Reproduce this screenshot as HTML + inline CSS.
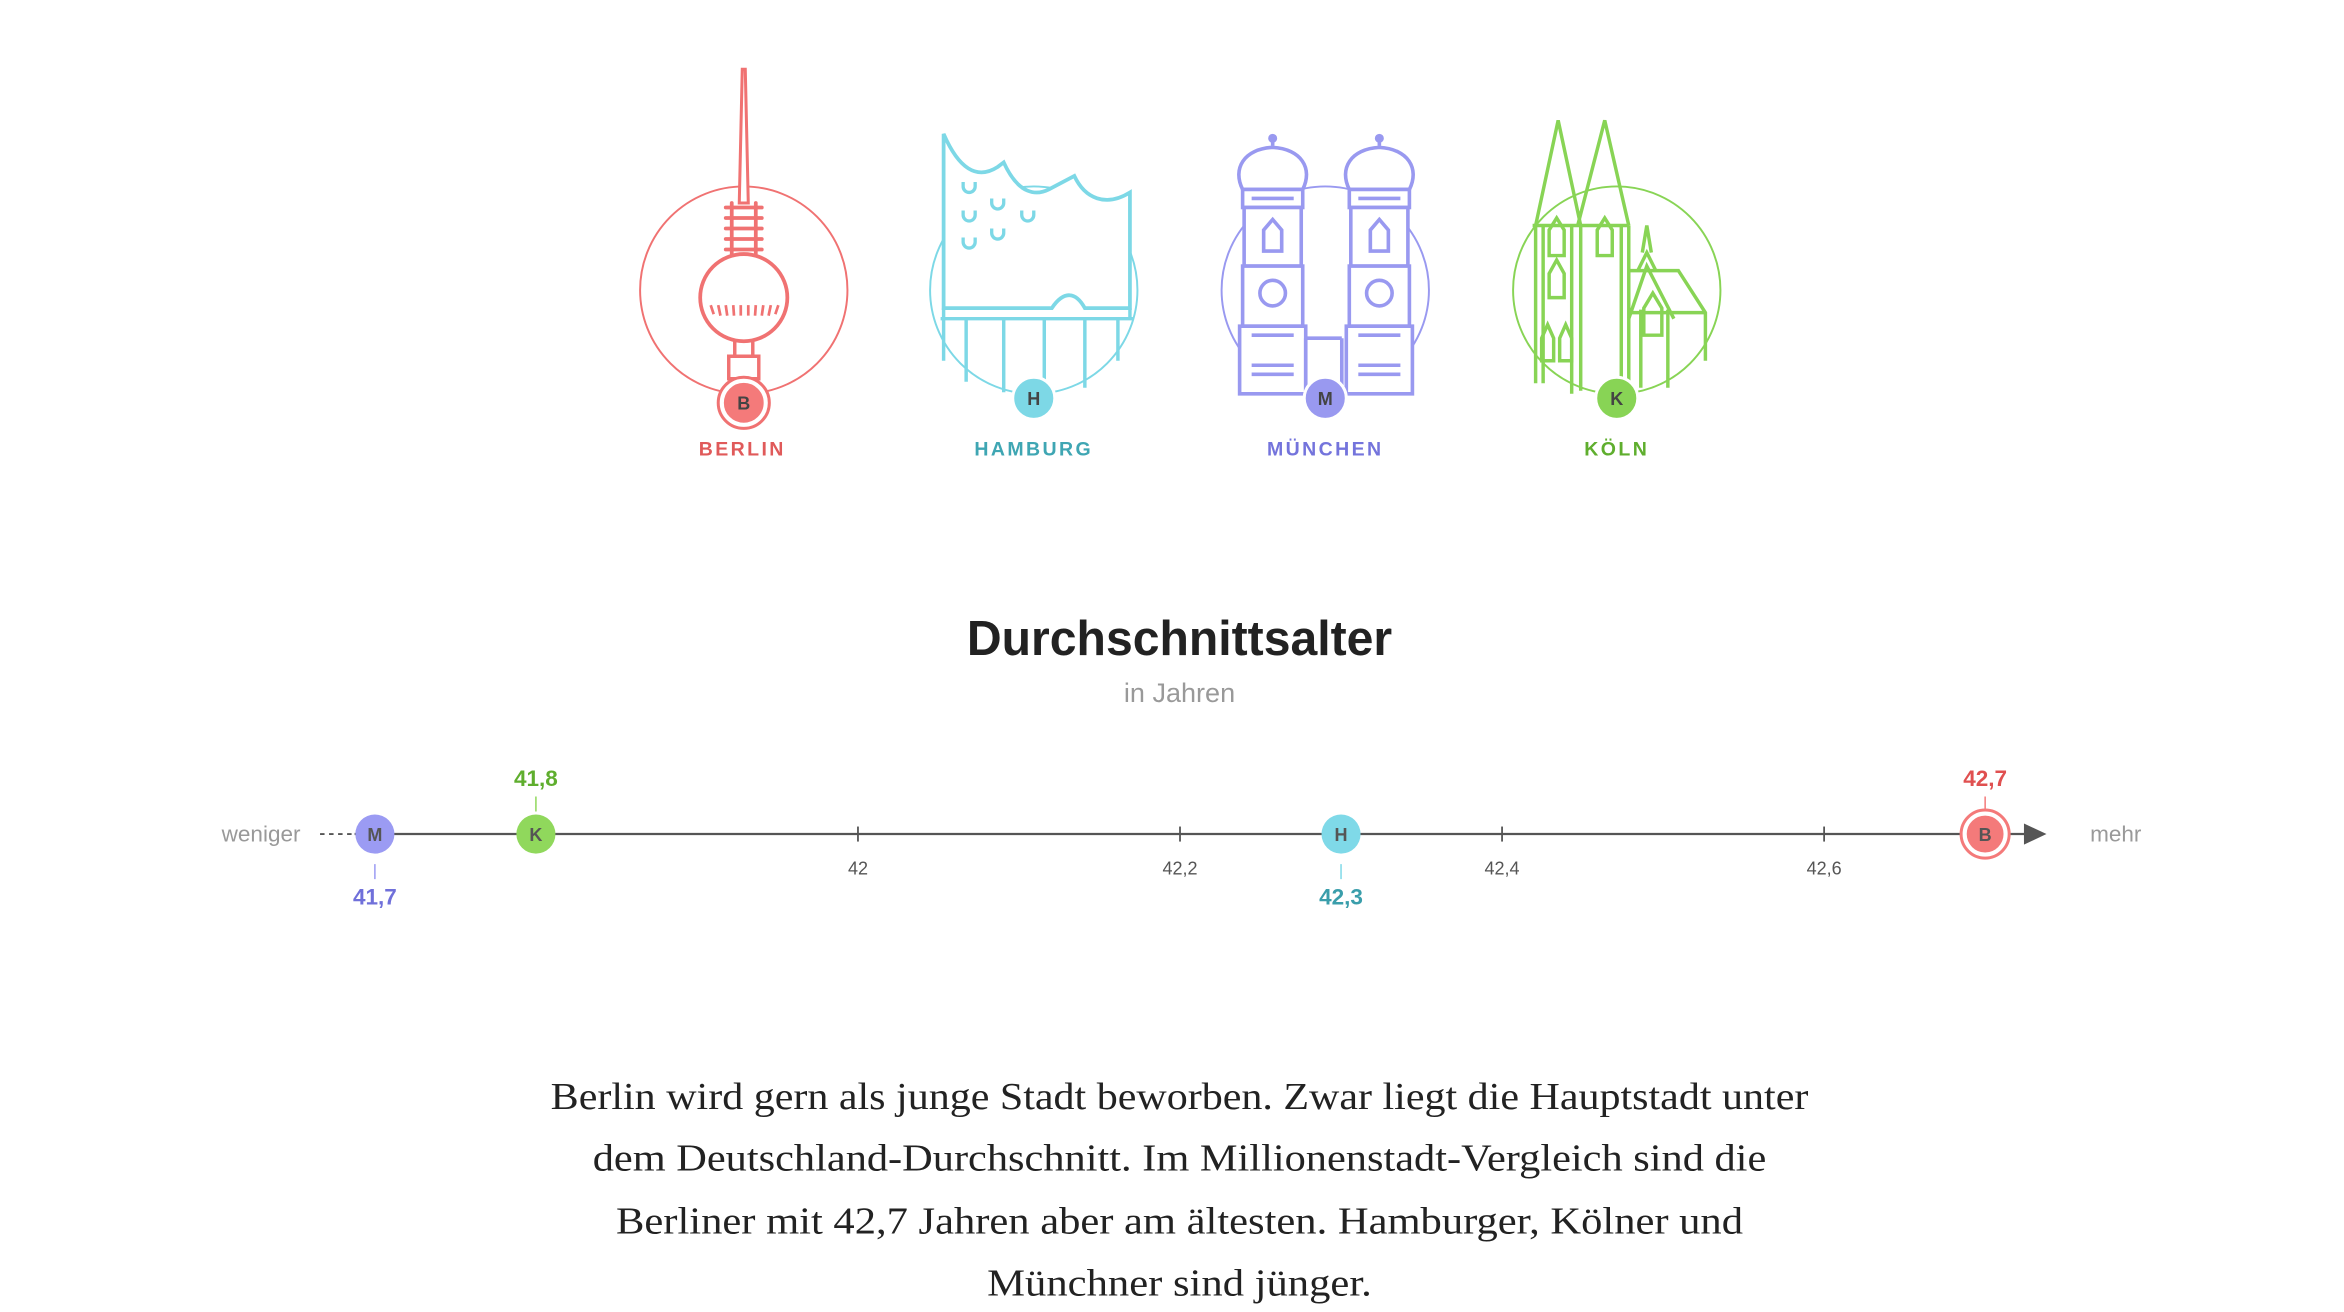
<!DOCTYPE html>
<html><head><meta charset="utf-8">
<style>
html,body{margin:0;padding:0;background:#fff;}
svg{display:block;}
.lbl{font-family:"Liberation Sans",sans-serif;font-weight:bold;font-size:13px;letter-spacing:1.6px;text-anchor:middle;}
.badge{font-family:"Liberation Sans",sans-serif;font-weight:bold;font-size:12px;text-anchor:middle;fill:#444;}
</style></head>
<body>
<svg id="main" width="2344" height="1312" viewBox="0 0 1560 873" xmlns="http://www.w3.org/2000/svg">
<!-- Berlin icon -->
<g fill="none" stroke="#f07272">
  <circle cx="495" cy="193" r="69" stroke-width="1.3"/>
  <polygon points="494,46 496,46 498,135 492,135" fill="#fff" stroke-width="2"/>
  <path d="M487,135V170M503,135V170M483,138H507M483,145H507M483,152H507M483,159H507M483,166H507" stroke-width="2.5" stroke-linecap="round"/>
  <circle cx="495" cy="198" r="29" stroke-width="2.5" fill="#fff"/>
  <path d="M473,203l2,6M478,203l1.5,7M483,203l1,7M488,203l.5,7M493,203v7M498,203v7M503,203l-.5,7M508,203l-1,7M513,203l-1.5,7M518,203l-2,6" stroke-width="1.8"/>
  <path d="M489,227V237M501,227V237M485,237H505V252H485Z" stroke-width="2.3" fill="#fff"/>
  <circle cx="495" cy="268" r="17" fill="#fff" stroke-width="2"/>
  <circle cx="495" cy="268" r="14" fill="#f47a7a" stroke="#fff" stroke-width="1.5"/>
</g>
<text x="495" y="272.5" class="badge">B</text>
<text x="494" y="303" class="lbl" fill="#e05a5a">BERLIN</text>

<!-- Hamburg icon -->
<g fill="none" stroke="#7dd8e6">
  <circle cx="688" cy="193" r="69" stroke-width="1.3"/>
  <path d="M628,89 C638,112 650,120 664,111 L668,108 C678,130 690,130 698,126 L715,117 C722,132 736,138 752,128 V205 H722 C716,194 708,193 700,205 H628 Z" stroke-width="2.5" fill="#fff"/>
  <path d="M626,212H754M628,205V212M752,205V212M628,212V240M643,212V254M668,212V261M695,212V262M722,212V258M744,212V240" stroke-width="2.3"/>
  <path d="M641,121v3a4,4 0 0 0 8,0v-3M660,132v3a4,4 0 0 0 8,0v-3M680,140v3a4,4 0 0 0 8,0v-3M641,140v3a4,4 0 0 0 8,0v-3M660,152v3a4,4 0 0 0 8,0v-3M641,158v3a4,4 0 0 0 8,0v-3" stroke-width="2.2"/>
  <circle cx="688" cy="265" r="14" fill="#7dd8e6" stroke="#fff" stroke-width="2"/>
</g>
<text x="688" y="269.5" class="badge">H</text>
<text x="688" y="303" class="lbl" fill="#3fa6b3">HAMBURG</text>

<!-- München icon -->
<g fill="none" stroke="#9999f0">
  <circle cx="882" cy="193" r="69" stroke-width="1.3"/>
  <g id="tower" stroke-width="2.4" fill="#fff">
    <path d="M847,90V97"/>
    <circle cx="847" cy="92" r="1.8" fill="#9999f0"/>
    <path d="M827,126 C820,112 828,99 847,98 C866,99 874,112 867,126 Z"/>
    <rect x="827" y="126" width="40" height="12"/>
    <path d="M833,132H861" />
    <rect x="828" y="138" width="38" height="39"/>
    <path d="M841,167V153 L847,146 L853,153V167Z"/>
    <rect x="827" y="177" width="40" height="40"/>
    <circle cx="847" cy="195" r="8.5"/>
    <path d="M825,217H869V262H825Z"/>
    <path d="M833,223H861M833,243H861M833,249H861"/>
  </g>
  <use href="#tower" transform="translate(71,0)"/>
  <path d="M869,225H893M869,260V225M893,260V225" stroke-width="2.4"/>
  <circle cx="882" cy="265" r="14" fill="#9999f0" stroke="#fff" stroke-width="2"/>
</g>
<text x="882" y="269.5" class="badge">M</text>
<text x="882" y="303" class="lbl" fill="#7474dc">MÜNCHEN</text>

<!-- Köln icon -->
<g fill="none" stroke="#88d455" stroke-width="2.3">
  <circle cx="1076" cy="193" r="69" stroke-width="1.3"/>
  <path d="M1022,255V150 L1037,80 L1052,150 V260"/>
  <path d="M1050,150 L1068,80 L1084,150"/>
  <path d="M1020,150H1052M1050,150H1084"/>
  <path d="M1084,150V262M1079,150V262M1027,150V255M1046,150V262"/>
  <path d="M1031,170V153 L1036,145 L1041,153V170Z M1063,170V153 L1068,145 L1073,153V170Z"/>
  <path d="M1031,198V182 L1036,173 L1041,182V198Z"/>
  <path d="M1026,240V225 L1030,216 L1034,225V240Z M1038,240V225 L1042,216 L1046,225V240Z"/>
  <path d="M1084,180H1117 L1135,208 V240 M1084,208H1135"/>
  <path d="M1090,180 L1096,168 L1102,180 M1093,168 L1096,150 L1099,168"/>
  <path d="M1084,212 L1096,177 L1114,212 M1092,206V258 M1110,206V258"/>
  <path d="M1094,223V205 L1100,195 L1106,205V223Z"/>
  <circle cx="1076" cy="265" r="14" fill="#88d455" stroke="#fff" stroke-width="2"/>
</g>
<text x="1076" y="269.5" class="badge">K</text>
<text x="1076" y="303" class="lbl" fill="#5fae2e">KÖLN</text>

<!-- Title -->
<text x="785" y="436" text-anchor="middle" font-family="Liberation Sans, sans-serif" font-weight="bold" font-size="33" fill="#222" textLength="283" lengthAdjust="spacingAndGlyphs">Durchschnittsalter</text>
<text x="785" y="467" text-anchor="middle" font-family="Liberation Sans, sans-serif" font-size="18" fill="#999">in Jahren</text>

<!-- Axis -->
<g id="chart"></g>

<!-- Paragraph -->
<g font-family="Liberation Serif, serif" font-size="25" fill="#222" text-anchor="middle">
<text x="785" y="738" textLength="837" lengthAdjust="spacingAndGlyphs">Berlin wird gern als junge Stadt beworben. Zwar liegt die Hauptstadt unter</text>
<text x="785" y="779" textLength="781" lengthAdjust="spacingAndGlyphs">dem Deutschland-Durchschnitt. Im Millionenstadt-Vergleich sind die</text>
<text x="785" y="821" textLength="750" lengthAdjust="spacingAndGlyphs">Berliner mit 42,7 Jahren aber am ältesten. Hamburger, Kölner und</text>
<text x="785" y="862" textLength="256" lengthAdjust="spacingAndGlyphs">Münchner sind jünger.</text>
</g>
</svg>
<script>
const cities = ["M","K","H","B"];
const ages = [41.7, 41.8, 42.3, 42.7];
const ageLabels = ["41,7","41,8","42,3","42,7"];
const labelSide = ["below","above","below","above"];
const dotColors = ["#9b9bf3","#90d85c","#7fd9e8","#f47a7a"];
const textColors = ["#7070da","#5fae2e","#3a9eab","#e05050"];
const tickValues = [42, 42.2, 42.4, 42.6];
const tickLabels = ["42","42,2","42,4","42,6"];

const NS = "http://www.w3.org/2000/svg";
const g = document.getElementById("chart");
const AY = 555;
function xScale(v){ return 571 + (v - 42) * (1214 - 571) / 0.6; }
function mk(tag, attrs, parent){
  const e = document.createElementNS(NS, tag);
  for (const k in attrs) e.setAttribute(k, attrs[k]);
  (parent || g).appendChild(e);
  return e;
}
let e = mk("line",{x1:213,y1:AY,x2:236,y2:AY,stroke:"#555","stroke-width":1.3,"stroke-dasharray":"3,3"});


e = mk("line",{x1:236,y1:AY,x2:1350,y2:AY,stroke:"#555","stroke-width":1.5});


e = mk("polygon",{points:"1347,548 1362,555 1347,562",fill:"#555"});


e = mk("text",{x:200,y:560,"text-anchor":"end","font-family":"Liberation Sans, sans-serif","font-size":15,fill:"#999"});
e.textContent = "weniger";


e = mk("text",{x:1391,y:560,"font-family":"Liberation Sans, sans-serif","font-size":15,fill:"#999"});
e.textContent = "mehr";



tickValues.forEach((v,i)=>{
  const x = xScale(v);
  let t = mk("line",{x1:x,y1:AY-5,x2:x,y2:AY+5,stroke:"#555","stroke-width":1.2});
  
  
  let l = mk("text",{x:x,y:582,"text-anchor":"middle","font-family":"Liberation Sans, sans-serif","font-size":12,fill:"#555"});
  l.textContent = tickLabels[i];
  
  
});

cities.forEach((c,i)=>{
  const x = xScale(ages[i]);
  const above = labelSide[i] === "above";
  let ln = mk("line",{x1:x,y1:above?530:575,x2:x,y2:above?540:585,stroke:dotColors[i],"stroke-width":1});
  
  
  if (c === "B") {
    let ring = mk("circle",{cx:x,cy:AY,r:16,fill:"#fff",stroke:dotColors[i],"stroke-width":2});
    
    
  }
  let dot = mk("circle",{cx:x,cy:AY,r:13,fill:dotColors[i],stroke:c==="B"?"#fff":"none","stroke-width":1.5});
  
  
  let lt = mk("text",{x:x,y:AY+4.5,"text-anchor":"middle","font-family":"Liberation Sans, sans-serif","font-weight":"bold","font-size":12,fill:"#555"});
  lt.textContent = c;
  
  
  let vt = mk("text",{x:x,y:above?523:602,"text-anchor":"middle","font-family":"Liberation Sans, sans-serif","font-weight":"bold","font-size":15,fill:textColors[i]});
  vt.textContent = ageLabels[i];
  
  
});
</script>
</body></html>
